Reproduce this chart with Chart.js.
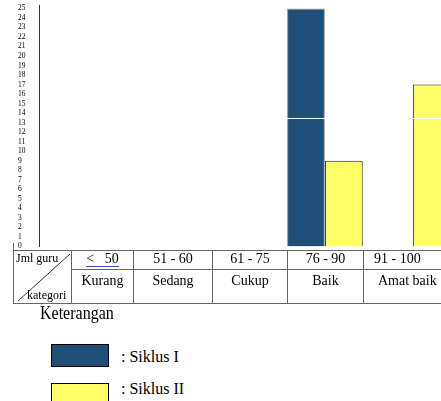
<!DOCTYPE html>
<html>
<head>
<meta charset="utf-8">
<script src="https://cdn.jsdelivr.net/npm/chart.js@4/dist/chart.umd.min.js"></script>
<style>
  html, body { margin: 0; padding: 0; background: #fff; width: 441px; height: 401px; overflow: hidden; }
  body { position: relative; font-family: "Liberation Serif", serif; color: #000; }
  #wrap { position: absolute; left: 0; top: 0; width: 441px; height: 251px; }
  #tbl { position: absolute; left: 13px; top: 250px; border-collapse: collapse; table-layout: fixed; }
  #tbl td { border: 1px solid #666; padding: 0; text-align: center; font-size: 14px; line-height: 16px; vertical-align: top; overflow: hidden; }
  #tbl tr.r1 td { height: 18px; }
  #tbl tr.r2 td { height: 30px; padding-top: 3px; }
  #tbl td.hdr { position: relative; font-size: 12px; overflow: visible; }
  .under { border-bottom: 1px solid #2f4fbf; display: inline-block; line-height: 15px; white-space: pre; }
  #tickmark { position: absolute; left: 13px; top: 243px; width: 1px; height: 8px; background: #666; }
  #legend { position: absolute; left: 40px; top: 303px; }
  #legend .title { font-size: 16px; transform: scaleY(1.15); transform-origin: left top; }
  .box { position: absolute; left: 11px; width: 56px; height: 21px; border: 1.5px solid #000; }
  .txt { position: absolute; left: 81px; font-size: 16px; line-height: 20px; white-space: pre; }
</style>
</head>
<body>
<div id="wrap"><canvas id="c" width="441" height="251"></canvas></div>
<div id="tickmark"></div>
<table id="tbl"></table>
<div id="legend"><div class="title">Keterangan</div></div>
<script>
// ---- data ----
const categories = ['Kurang', 'Sedang', 'Cukup', 'Baik', 'Amat baik'];
const scoreRanges = ['<   50', '51 - 60', '61 - 75', '76 - 90', '91 - 100'];
const siklusI  = [0, 0, 0, 25, 0];
const siklusII = [0, 0, 0, 9, 17];
const seriesNames = ['Siklus I', 'Siklus II'];
const yTicks = [0, 25];           // tick range on the y axis
const headerTop = 'Jml guru';
const headerBottom = 'kategori';
const legendTitle = 'Keterangan';

// ---- styles ----
const colors = ['#1f4e79', '#ffff66'];
const borders = ['#9a9a9a', '#1a1a1a'];

const toPoints = arr => arr.map((v, i) => ({ x: i, y: v }));

const whiteLine = {
  id: 'whiteLine',
  afterDatasetsDraw(chart) {
    const { ctx, chartArea, scales } = chart;
    const y = Math.round(scales.y.getPixelForValue(13.5)) + 0.5;
    ctx.save();
    ctx.strokeStyle = '#ffffff';
    ctx.lineWidth = 1;
    ctx.beginPath();
    ctx.moveTo(chartArea.left + 1, y);
    ctx.lineTo(chartArea.right, y);
    ctx.stroke();
    ctx.restore();
  }
};

new Chart(document.getElementById('c'), {
  type: 'bar',
  data: {
    datasets: [
      { label: seriesNames[0], data: toPoints(siklusI), backgroundColor: colors[0], borderColor: borders[0], borderWidth: 1 },
      { label: seriesNames[1], data: toPoints(siklusII), backgroundColor: colors[1], borderColor: borders[1], borderWidth: 1 }
    ]
  },
  options: {
    responsive: false,
    animation: false,
    maintainAspectRatio: false,
    layout: { padding: { left: 18, top: 5, right: 0, bottom: 1 } },
    datasets: { bar: { categoryPercentage: 0.86, barPercentage: 1 } },
    plugins: { legend: { display: false }, tooltip: { enabled: false } },
    scales: {
      x: {
        type: 'linear',
        display: false,
        offset: false,
        min: -0.25,
        max: 4.32,
        ticks: { stepSize: 1, includeBounds: false },
        grid: { display: false, offset: false }
      },
      y: {
        min: yTicks[0],
        max: 25.36,
        afterFit(s) { s.width = 21; },
        grid: { display: false, drawTicks: false },
        border: { display: true, color: '#333', width: 1 },
        ticks: {
          stepSize: 1,
          includeBounds: false,
          autoSkip: false,
          crossAlign: 'far',
          padding: 0,
          color: '#000',
          font: { family: 'Liberation Serif', size: 7.5 },
          callback: v => (Number.isInteger(v) && v <= yTicks[1]) ? String(v) : ''
        }
      }
    }
  },
  plugins: [whiteLine]
});

// ---- table below the chart ----
const widths = [58, 62, 79, 75, 76, 95];
const tbl = document.getElementById('tbl');
tbl.style.width = widths.reduce((a, b) => a + b, 0) + 'px';
const cg = document.createElement('colgroup');
widths.forEach(w => { const c = document.createElement('col'); c.style.width = w + 'px'; cg.appendChild(c); });
tbl.appendChild(cg);
const r1 = document.createElement('tr'); r1.className = 'r1';
const hdr = document.createElement('td'); hdr.className = 'hdr'; hdr.rowSpan = 2;
hdr.innerHTML =
  '<svg width="58" height="52" style="position:absolute;left:0;top:0">' +
  '<line x1="4" y1="50" x2="56" y2="3" stroke="#333" stroke-width="1"/></svg>' +
  '<div style="position:absolute;left:2px;top:1px;line-height:13px">' + headerTop + '</div>' +
  '<div style="position:absolute;left:13px;top:38px;line-height:13px">' + headerBottom + '</div>';
r1.appendChild(hdr);
scoreRanges.forEach((t, i) => {
  const td = document.createElement('td');
  if (i === 0) { const s = document.createElement('span'); s.className = 'under'; s.textContent = t; td.appendChild(s); }
  else td.textContent = t;
  if (i === scoreRanges.length - 1) td.style.textAlign = 'left', td.style.paddingLeft = '10px';
  r1.appendChild(td);
});
tbl.appendChild(r1);
const r2 = document.createElement('tr'); r2.className = 'r2';
categories.forEach((t, i) => {
  const td = document.createElement('td'); td.textContent = t;
  if (i === categories.length - 1) td.style.textAlign = 'left', td.style.paddingLeft = '14px';
  r2.appendChild(td);
});
tbl.appendChild(r2);

// ---- legend ----
const lg = document.getElementById('legend');
lg.querySelector('.title').textContent = legendTitle;
seriesNames.forEach((n, i) => {
  const b = document.createElement('div'); b.className = 'box';
  b.style.top = (41 + i * 39) + 'px';
  b.style.background = colors[i];
  lg.appendChild(b);
  const t = document.createElement('div'); t.className = 'txt';
  t.style.top = (44 + i * 31.5) + 'px';
  t.textContent = ': ' + n;
  lg.appendChild(t);
});
</script>
</body>
</html>
